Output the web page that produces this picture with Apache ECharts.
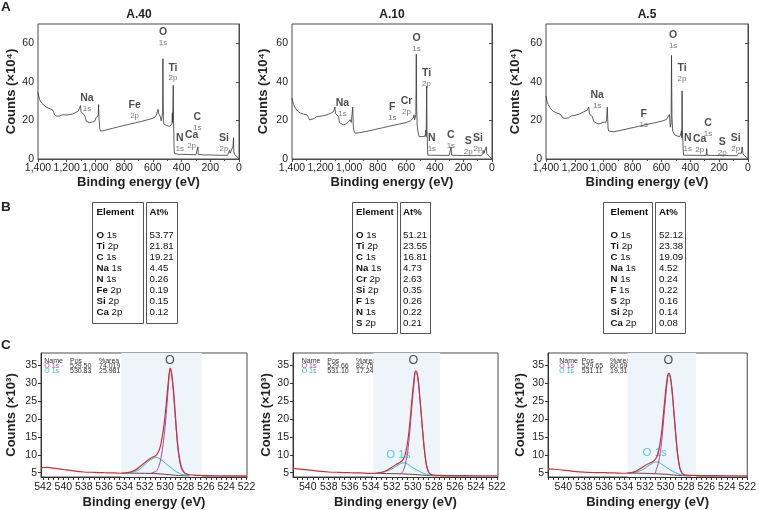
<!DOCTYPE html>
<html><head><meta charset="utf-8">
<script src="https://cdn.jsdelivr.net/npm/echarts@6/dist/echarts.min.js"></script>
<style>html,body{margin:0;padding:0;background:#fff}#c{width:759px;height:510px}</style>
</head><body><div id="c"></div>
<script>
// ---------- DATA ----------
const surveyTitles = ['A.40', 'A.10', 'A.5'];
const surveyXTicks = [0, 200, 400, 600, 800, 1000, 1200, 1400];
const surveyYTicks = [0, 20, 40, 60];

const survey40 = [[1400,34.4],[1390,31],[1375,29],[1350,27.3],[1325,26.3],[1300,25.6],[1292,24.5],[1285,23],[1270,22.2],[1250,22.3],[1235,22.8],[1228,23.4],[1220,23],[1205,22.8],[1180,23],[1160,23.3],[1140,24],[1120,24.8],[1108,25.5],[1104,27.7],[1100,24.5],[1090,23.6],[1080,23],[1074,22.3],[1070,21.6],[1064,19.5],[1055,19],[1040,18.8],[1020,19.2],[1005,19.6],[996,21.5],[990,21],[986,20.6],[980,22.5],[978,28.2],[975,21],[970,16],[966,14.6],[950,14.6],[920,15.2],[880,15.9],[840,16.7],[800,17.4],[760,18.1],[720,18.8],[680,19.5],[640,20.3],[600,21.1],[580,22],[570,23],[563,25.8],[560,23.5],[555,22.5],[548,22],[542,19.8],[536,20.5],[532,24],[530,52],[528,30],[526,19.5],[522,18],[515,17.7],[500,17.3],[485,17],[472,16.8],[467,18],[464,24],[462,19],[460,18.5],[458,38.2],[456,20],[454,14],[452,6],[450,2.8],[446,2.5],[420,2.4],[400,2.4],[350,2.3],[300,2.2],[290,2.3],[286,6.3],[284,2.5],[280,2.2],[250,2.1],[200,2.1],[170,2.0],[150,2.0],[120,1.9],[105,2.0],[102,3.0],[99,2.0],[80,1.9],[70,2.4],[65,4.5],[62,3],[58,3.5],[50,3],[42,6.5],[38,11],[36,4],[32,2.5],[25,1.5],[15,1.2],[8,0.8],[3,0.3],[0,0]];
const survey10 = [[1400,31.6],[1390,28.5],[1377,26.4],[1360,24.8],[1342,23.8],[1320,23.3],[1295,22.9],[1285,21.5],[1277,20.3],[1260,20.6],[1245,21],[1237,21.6],[1228,22],[1214,22],[1190,22.3],[1156,22.9],[1130,23.7],[1109,24.6],[1100,26.9],[1095,23.5],[1085,22.7],[1074,22],[1068,18.8],[1060,18.2],[1040,17.7],[1020,18.3],[1005,19.2],[993,20.3],[985,19],[980,19.8],[975,26.9],[971,17],[966,14.5],[958,13.4],[930,13.6],[880,14.3],[820,15.3],[760,16.3],[700,17.3],[650,18.1],[600,18.9],[574,19.6],[560,20.5],[551,21.2],[546,22.9],[542,20.3],[537,20.5],[533,23],[530,54.4],[527,25],[524,17.7],[518,14],[510,11.6],[490,11.6],[470,11.8],[466,13],[463,15],[461,11.5],[459,10.8],[457,37.8],[455,15],[453,9.8],[451,5],[449,2],[430,1.95],[380,1.9],[300,1.85],[290,1.9],[286,6.3],[283,2],[250,1.85],[200,1.8],[168,1.8],[163,2.3],[160,1.8],[130,1.75],[103,1.9],[100,2.6],[97,1.8],[75,1.7],[65,2.8],[62,4.5],[58,2.8],[45,3.5],[40,6.3],[37,3],[30,2],[20,1.3],[10,0.8],[0,0.1]];
const survey5 = [[1400,32.6],[1392,29.5],[1384,28.2],[1365,25.8],[1349,24.7],[1325,23.9],[1303,23.3],[1290,22.3],[1280,21.2],[1262,21.1],[1245,21.3],[1232,22.2],[1222,22.4],[1200,22.6],[1165,23.5],[1140,24.4],[1115,25.3],[1104,26.9],[1098,23.2],[1085,22.4],[1078,22],[1070,19.5],[1060,18.6],[1040,18.2],[1026,18.3],[1005,19],[992,19.6],[985,19],[980,20.4],[975,26.9],[970,16],[966,14.5],[957,13.8],[930,14.1],[880,14.9],[820,15.9],[760,16.9],[700,17.9],[640,18.9],[590,19.8],[565,20.5],[553,21.5],[545,23],[540,18],[537,16.5],[533,19],[530,53.7],[527,22],[522,14.5],[518,13.5],[508,12.5],[490,11.9],[473,11.6],[466,13],[461,14.5],[459,11],[457,35.3],[454,13],[451,9],[449,5],[447,2],[420,1.95],[350,1.9],[290,1.85],[286,5.4],[283,1.9],[250,1.85],[200,1.8],[180,1.8],[170,2.0],[165,1.8],[130,1.75],[105,1.8],[100,2.4],[97,1.75],[75,1.7],[66,3],[62,4],[58,2.7],[45,3],[40,6.3],[37,3.3],[30,2.2],[20,1.4],[10,0.8],[0,0.1]];

// peak annotations: [binding energy, counts, element, orbital]
const peaks40 = [[1059,29.3,'Na','1s'],[727,25.7,'Fe','2p'],[529,63.4,'O','1s'],[460,45,'Ti','2p'],[291,19.3,'C','1s'],[413,8.4,'N','1s'],[330,10.1,'Ca','2p'],[104,8.6,'Si','2p']];
const peaks10 = [[1047,26.4,'Na','1s'],[698,24.7,'F','1s'],[598,27.5,'Cr','2p'],[528,60.3,'O','1s'],[458,42,'Ti','2p'],[421,8.6,'N','1s'],[288,10,'C','1s'],[167,7,'S','2p'],[98,8.6,'Si','2p']];
const peaks5 = [[1045,30.7,'Na','1s'],[722,20.9,'F','1s'],[519,61.8,'O','1s'],[457,44.6,'Ti','2p'],[277,16.3,'C','1s'],[418,8.5,'N','1s'],[335,8,'Ca','2p'],[178,6.5,'S','2p'],[85,8.6,'Si','2p']];

// composition tables: [element, orbital, at%]
const table40 = [['O','1s','53.77'],['Ti','2p','21.81'],['C','1s','19.21'],['Na','1s','4.45'],['N','1s','0.26'],['Fe','2p','0.19'],['Si','2p','0.15'],['Ca','2p','0.12']];
const table10 = [['O','1s','51.21'],['Ti','2p','23.55'],['C','1s','16.81'],['Na','1s','4.73'],['Cr','2p','2.63'],['Si','2p','0.35'],['F','1s','0.26'],['N','1s','0.22'],['S','2p','0.21']];
const table5 = [['O','1s','52.12'],['Ti','2p','23.38'],['C','1s','19.09'],['Na','1s','4.52'],['N','1s','0.24'],['F','1s','0.22'],['S','2p','0.16'],['Si','2p','0.14'],['Ca','2p','0.08']];

// O 1s high-resolution spectra
const o1sXLabels = [522,524,526,528,530,532,534,536,538,540,542];
const o1sYTicks = [5,10,15,20,25,30,35];
const fitLegend40 = [['O 1s','529.50','74.019'],['O 1s','530.83','25.981']];
const fitLegend10 = [['O 1s','529.66','82.758'],['O 1s','531.10','17.242']];
const fitLegend5 = [['O 1s','529.65','80.690'],['O 1s','531.11','19.310']];
const fitWindow40 = [534.3, 526.4];
const fitWindow10 = [533.75, 527.4];
const fitWindow5 = [533.7, 527.0];

const raw40 = [[542.2,6.4],[541.5,6.5],[541,6.3],[540.5,6.1],[540,5.9],[539,5.5],[538,5.2],[537,5.1],[536,5.0],[535,4.95],[534.3,4.85],[533.8,4.95],[533.3,5.3],[532.8,6.0],[532.4,6.9],[532,7.8],[531.6,8.7],[531.2,9.4],[530.9,9.8],[530.6,11.2],[530.4,13.2],[530.2,16.5],[530,21],[529.8,27],[529.6,32.8],[529.5,34.3],[529.4,33.6],[529.2,29],[529,21.5],[528.8,14],[528.6,9.2],[528.4,6.6],[528.2,5.4],[528,4.8],[527.7,4.5],[527.2,4.35],[526.5,4.25],[525,4.15],[523.5,4.1],[522,4.1]];
const comp1_40 = [[531.4,4.8],[531.2,5.1],[530.9,5.3],[530.6,6.9],[530.4,9.2],[530.2,12.9],[530,17.9],[529.8,24.6],[529.6,32.2],[529.5,33.9],[529.4,33.2],[529.2,28],[529,20.6],[528.8,13.4],[528.6,8.7],[528.4,6.2],[528.2,5.2],[528,4.65],[527.7,4.4]];
const comp2_40 = [[533.8,4.9],[533.3,5.05],[532.8,5.5],[532.3,6.4],[531.9,7.5],[531.5,8.5],[531.1,9.1],[530.85,9.25],[530.6,9.0],[530.3,8.4],[530,7.7],[529.6,6.8],[529.2,5.9],[528.8,5.1],[528.4,4.6],[528,4.3],[527.6,4.2]];
const base40 = [[534.3,4.9],[533.5,4.88],[532.5,4.85],[531.5,4.8],[530.8,4.72],[530.2,4.6],[529.7,4.48],[529.2,4.33],[528.7,4.22],[528.2,4.16],[527.6,4.12]];

const raw10 = [[541.4,6.2],[541,6.1],[540,5.8],[539,5.45],[538,5.2],[537,5.1],[536,5.0],[535,4.95],[534,4.8],[533.5,4.85],[533,5.1],[532.5,5.6],[532,6.5],[531.6,7.3],[531.2,7.9],[530.9,8.8],[530.7,10.5],[530.5,13.5],[530.3,18.5],[530.1,25],[529.9,30.8],[529.75,33.5],[529.6,33],[529.45,30],[529.3,25],[529.1,18],[528.9,11.5],[528.7,7.2],[528.5,5.2],[528.3,4.55],[528,4.35],[527.5,4.25],[526,4.2],[524,4.15],[522,4.15]];
const comp1_10 = [[531.2,4.72],[531.05,4.95],[530.9,5.7],[530.7,7.45],[530.5,10.7],[530.3,16.1],[530.1,23.2],[529.9,29.6],[529.75,33.1],[529.6,32.7],[529.45,29.5],[529.3,24.5],[529.1,17.5],[528.9,11.1],[528.7,6.9],[528.5,5.0],[528.3,4.45],[528.1,4.25]];
const comp2_10 = [[533.6,4.8],[533.1,4.95],[532.6,5.3],[532.1,5.9],[531.7,6.6],[531.3,7.3],[531,7.75],[530.8,7.8],[530.5,7.4],[530.1,6.6],[529.7,5.9],[529.3,5.25],[528.9,4.75],[528.5,4.4],[528.1,4.25],[527.7,4.15]];
const base10 = [[533.7,4.8],[533,4.78],[532,4.74],[531,4.68],[530.3,4.58],[529.7,4.47],[529.2,4.36],[528.7,4.25],[528.2,4.18],[527.5,4.12]];

const raw5 = [[541.5,6.1],[541,6.0],[540,5.75],[539,5.4],[538,5.15],[537,5.05],[536,5.0],[535,4.95],[534,4.85],[533.5,4.95],[533,5.3],[532.5,6.1],[532,7.0],[531.6,7.6],[531.2,8.2],[530.9,9.2],[530.7,10.8],[530.5,13.8],[530.3,18.5],[530.1,24.5],[529.9,30],[529.75,32.6],[529.65,32.8],[529.5,31.5],[529.35,28],[529.2,23],[529,16],[528.8,10],[528.6,6.5],[528.4,5],[528.2,4.5],[528,4.35],[527.5,4.25],[526,4.2],[524,4.15],[522,4.15]];
const comp1_5 = [[531.15,4.72],[531,4.95],[530.9,5.9],[530.7,7.6],[530.5,10.85],[530.3,15.9],[530.1,22.5],[529.9,28.6],[529.75,32.2],[529.65,32.5],[529.5,31.2],[529.35,27.3],[529.2,22.3],[529,15.4],[528.8,9.6],[528.6,6.1],[528.4,4.8],[528.2,4.37],[528,4.2]];
const comp2_5 = [[533.6,4.85],[533.1,5.0],[532.6,5.4],[532.1,6.1],[531.7,6.9],[531.3,7.6],[531,8.0],[530.8,8.0],[530.5,7.6],[530.1,6.9],[529.7,6.1],[529.3,5.4],[528.9,4.85],[528.5,4.45],[528.1,4.25],[527.7,4.15]];
const base5 = [[533.7,4.9],[533,4.88],[532,4.82],[531,4.72],[530.3,4.62],[529.7,4.5],[529.2,4.36],[528.7,4.24],[528.2,4.17],[527.5,4.12]];

// peak text labels on O 1s panels: [energy, counts, text]
const oLabels40 = [[529.54,36.3,'O']];
const oLabels10 = [[529.95,36.3,'O']];
const oLabels5 = [[529.73,36.3,'O']];
const o1sCompLabels10 = [[531.38,10,'O 1s']];
const o1sCompLabels5 = [[531.06,10.6,'O 1s']];

// ---------- CHART ----------
const FONT = '"Liberation Sans", Arial, Helvetica, sans-serif';
const AX = '#4a4a4a';
const chart = echarts.init(document.getElementById('c'), null, {renderer: 'canvas'});
const comma = v => String(v).replace(/\B(?=(\d{3})+(?!\d))/g, ',');

const aGrids = [
  {left: 38, top: 24, width: 201, height: 135},
  {left: 292, top: 24, width: 200, height: 135},
  {left: 546, top: 24, width: 202, height: 135}
];
const cGrids = [
  {left: 41, top: 353, width: 206, height: 124},
  {left: 293, top: 353, width: 205, height: 124},
  {left: 548, top: 353, width: 206, height: 124}
];
const aYNameGap = [19, 22, 24];
const cYNameGap = [23, 19, 21];
const cXRange = [[521.95, 542.2], [521.9, 541.4], [522.0, 541.5]];

const grid = [], xAxis = [], yAxis = [], series = [], graphic = [];
aGrids.concat(cGrids).forEach(g => grid.push(Object.assign({show: true, borderColor: AX, borderWidth: 1, backgroundColor: 'transparent', containLabel: false}, g)));

const surveys = [survey40, survey10, survey5];
const peakSets = [peaks40, peaks10, peaks5];
for (let i = 0; i < 3; i++) {
  xAxis.push({
    gridIndex: i, type: 'value', min: 0, max: 1400, interval: 200, inverse: true,
    axisLine: {show: true, lineStyle: {color: AX}},
    axisTick: {show: true, length: 3, lineStyle: {color: AX}},
    minorTick: {show: true, splitNumber: 2, length: 2, lineStyle: {color: AX}},
    splitLine: {show: false},
    axisLabel: {fontSize: 10.5, color: '#222', margin: 4, fontFamily: FONT, formatter: comma, showMinLabel: true, showMaxLabel: true},
    name: 'Binding energy (eV)', nameLocation: 'middle', nameGap: 17,
    nameTextStyle: {fontWeight: 'bold', fontSize: 13, color: '#222', fontFamily: FONT}
  });
  yAxis.push({
    gridIndex: i, type: 'value', min: 0, max: 70,
    axisLine: {show: true, lineStyle: {color: AX}},
    axisTick: {show: true, length: 3, lineStyle: {color: AX}, customValues: surveyYTicks},
    splitLine: {show: false},
    axisLabel: {fontSize: 10.5, color: '#222', margin: 4, fontFamily: FONT, customValues: surveyYTicks},
    name: 'Counts (×10⁴)', nameLocation: 'middle', nameGap: aYNameGap[i],
    nameTextStyle: {fontWeight: 'bold', fontSize: 13, color: '#222', fontFamily: FONT}
  });
  series.push({
    type: 'line', xAxisIndex: i, yAxisIndex: i, data: surveys[i], showSymbol: false,
    lineStyle: {color: '#333', width: 0.8}, silent: true
  });
  series.push({
    type: 'scatter', xAxisIndex: i, yAxisIndex: i, data: peakSets[i], symbolSize: 1,
    itemStyle: {color: 'rgba(0,0,0,0)'}, silent: true,
    label: {
      show: true, position: 'inside', fontFamily: FONT,
      formatter: p => '{e|' + p.data[2] + '}\n{o|' + p.data[3] + '}',
      rich: {
        e: {fontWeight: 'bold', fontSize: 10.5, color: '#222', lineHeight: 12, fontFamily: FONT},
        o: {fontSize: 8, color: '#555', lineHeight: 9, fontFamily: FONT}
      }
    }
  });
}

const raws = [raw40, raw10, raw5], c1s = [comp1_40, comp1_10, comp1_5], c2s = [comp2_40, comp2_10, comp2_5], bases = [base40, base10, base5];
const windows = [fitWindow40, fitWindow10, fitWindow5];
const oLabs = [oLabels40, oLabels10, oLabels5];
const compLabs = [[], o1sCompLabels10, o1sCompLabels5];
const minorX = [];
for (let k = 0; k <= 40; k++) minorX.push(522 + k * 0.5);

for (let j = 0; j < 3; j++) {
  const gi = 3 + j;
  const [lo, hi] = cXRange[j];
  xAxis.push({
    gridIndex: gi, type: 'value', min: lo, max: hi, inverse: true,
    axisLine: {show: true, lineStyle: {color: '#333'}},
    axisTick: {show: true, length: 3, lineStyle: {color: '#333'}, customValues: minorX.filter(v => v >= lo && v <= hi)},
    splitLine: {show: false},
    axisLabel: {fontSize: 10.5, color: '#222', margin: 5, fontFamily: FONT, customValues: o1sXLabels.filter(v => v >= lo && v <= hi)},
    name: 'Binding energy (eV)', nameLocation: 'middle', nameGap: 19,
    nameTextStyle: {fontWeight: 'bold', fontSize: 13, color: '#222', fontFamily: FONT}
  });
  yAxis.push({
    gridIndex: gi, type: 'value', min: 3.8, max: 38.5,
    axisLine: {show: true, lineStyle: {color: '#333'}},
    axisTick: {show: true, length: 3, lineStyle: {color: '#333'}, customValues: o1sYTicks},
    splitLine: {show: false},
    axisLabel: {fontSize: 10.5, color: '#222', margin: 4, fontFamily: FONT, customValues: o1sYTicks},
    name: 'Counts (×10³)', nameLocation: 'middle', nameGap: cYNameGap[j],
    nameTextStyle: {fontWeight: 'bold', fontSize: 13, color: '#222', fontFamily: FONT}
  });
  // shaded fit window
  series.push({
    type: 'line', xAxisIndex: gi, yAxisIndex: gi, data: [], silent: true, z: 1,
    markArea: {silent: true, itemStyle: {color: '#edf5fb'}, data: [[{xAxis: windows[j][0]}, {xAxis: windows[j][1]}]]}
  });
  const common = {type: 'line', xAxisIndex: gi, yAxisIndex: gi, showSymbol: false, silent: true, smooth: 0.3, z: 3};
  series.push(Object.assign({}, common, {data: bases[j], lineStyle: {color: '#7a4032', width: 1}}));
  series.push(Object.assign({}, common, {data: c2s[j], lineStyle: {color: '#35b8c8', width: 1}}));
  series.push(Object.assign({}, common, {data: c1s[j], lineStyle: {color: '#a24aa6', width: 1}}));
  series.push(Object.assign({}, common, {data: raws[j], lineStyle: {color: '#c8323a', width: 1.2}, z: 4}));
  series.push({
    type: 'scatter', xAxisIndex: gi, yAxisIndex: gi, data: oLabs[j], symbolSize: 1, silent: true,
    itemStyle: {color: 'rgba(0,0,0,0)'},
    label: {show: true, position: 'inside', formatter: p => p.data[2], fontSize: 12.5, color: '#222', fontFamily: FONT}
  });
  series.push({
    type: 'scatter', xAxisIndex: gi, yAxisIndex: gi, data: compLabs[j], symbolSize: 1, silent: true,
    itemStyle: {color: 'rgba(0,0,0,0)'},
    label: {show: true, position: 'inside', formatter: p => p.data[2], fontSize: 11.5, color: '#35b8c8', fontFamily: FONT}
  });
}

// ---------- GRAPHIC TEXT ----------
function txt(x, y, text, opt) {
  graphic.push({type: 'text', x: x, y: y, silent: true, style: Object.assign({text: text, fill: '#222', fontFamily: FONT, fontSize: 10, align: 'left', verticalAlign: 'middle'}, opt || {})});
}
// panel letters
txt(1, 7, 'A', {fontWeight: 'bold', fontSize: 13.5});
txt(1, 207, 'B', {fontWeight: 'bold', fontSize: 13.5});
txt(1, 345, 'C', {fontWeight: 'bold', fontSize: 13.5});
// survey titles
const titleX = [139, 392, 647];
surveyTitles.forEach((t, i) => txt(titleX[i], 15, t, {fontWeight: 'bold', fontSize: 12, align: 'center'}));

// tables
const TF = 9.7;
function drawTable(rows, lb, rb, top, bottom, tx1, tx2, rowStep) {
  graphic.push({type: 'rect', silent: true, shape: {x: lb[0] + 0.5, y: top + 0.5, width: lb[1] - lb[0], height: bottom - top}, style: {fill: 'none', stroke: '#555', lineWidth: 1}});
  graphic.push({type: 'rect', silent: true, shape: {x: rb[0] + 0.5, y: top + 0.5, width: rb[1] - rb[0], height: bottom - top}, style: {fill: 'none', stroke: '#555', lineWidth: 1}});
  txt(tx1, 212, 'Element', {fontWeight: 'bold', fontSize: TF, fill: '#111'});
  txt(tx2, 212, 'At%', {fontWeight: 'bold', fontSize: TF, fill: '#111'});
  rows.forEach((r, k) => {
    const y = 235 + k * rowStep;
    graphic.push({type: 'text', x: tx1, y: y, silent: true, style: {
      text: '{b|' + r[0] + '} ' + r[1], fill: '#111', fontFamily: FONT, fontSize: TF, verticalAlign: 'middle',
      rich: {b: {fontWeight: 'bold', fontSize: TF, fill: '#111', fontFamily: FONT}}
    }});
    txt(tx2, y, r[2], {fontSize: TF, fill: '#111'});
  });
}
drawTable(table40, [92, 143], [146, 177], 202, 323, 96.5, 149.5, 11);
drawTable(table10, [352, 397], [400, 430], 202, 333, 356, 403, 11.1);
drawTable(table5, [603, 652], [655, 685], 202, 333, 610.5, 659, 11.1);

// fit legends in O 1s panels
const legends = [fitLegend40, fitLegend10, fitLegend5];
const legCols = [[44.3, 70, 99], [301.7, 327.3, 356], [559.3, 581.7, 610]];
const legColors = ['#a24aa6', '#35b8c8'];
legends.forEach((L, j) => {
  const c = legCols[j];
  const o = {fontSize: 7, fill: '#333'};
  txt(c[0], 361, 'Name', o); txt(c[1], 361, 'Pos', o); txt(c[2], 361, '%area', o);
  L.forEach((r, k) => {
    const y = 366 + k * 5.2;
    txt(c[0], y, r[0], {fontSize: 7, fill: legColors[k]});
    txt(c[1], y, r[1], {fontSize: 7, fill: '#333'});
    txt(c[2], y, r[2], {fontSize: 7, fill: '#333'});
  });
});

chart.setOption({animation: false, backgroundColor: '#fff', grid, xAxis, yAxis, series, graphic});
</script></body></html>
